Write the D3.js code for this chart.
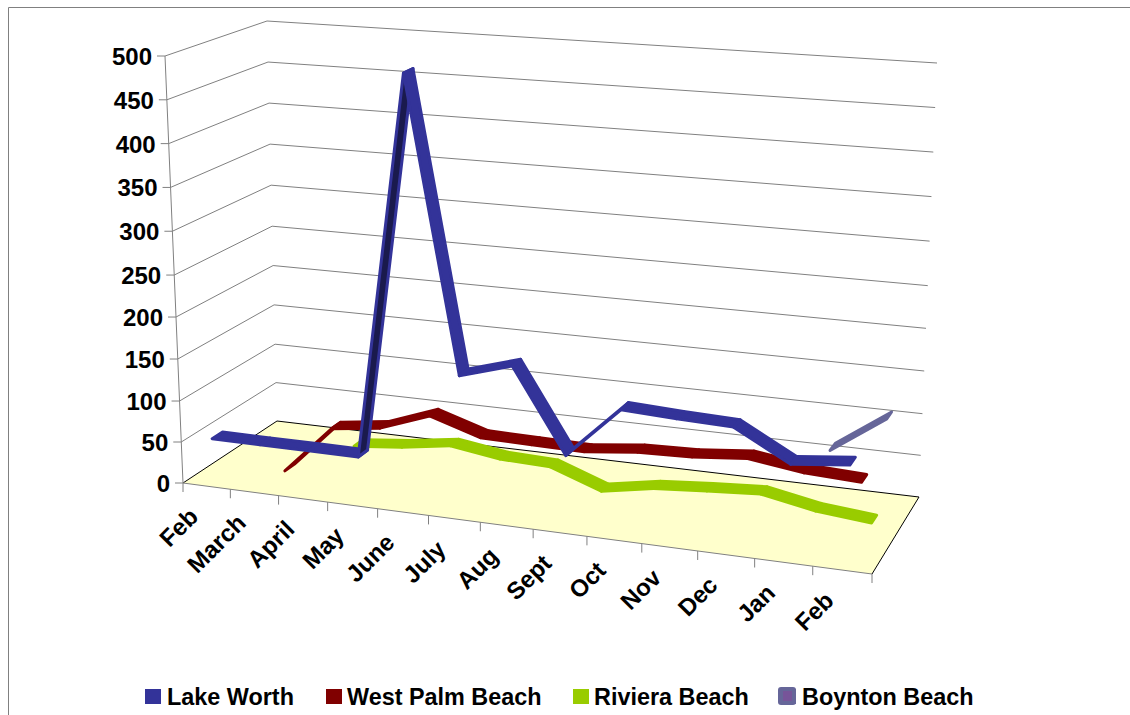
<!DOCTYPE html>
<html>
<head>
<meta charset="utf-8">
<script src="https://cdn.jsdelivr.net/npm/d3@7"></script>
<style>
    html, body { margin: 0; padding: 0; background: #fff; }
    svg { display: block; }
    text { font-family: "Liberation Sans", Arial, sans-serif; font-weight: bold; fill: #000; }
</style>
</head>
<body>
<script>
const months = ["Feb", "March", "April", "May", "June", "July", "Aug", "Sept", "Oct", "Nov", "Dec", "Jan", "Feb"];
const seriesNames = ["Lake Worth", "West Palm Beach", "Riviera Beach", "Boynton Beach"];
const seriesColours = ["#333399", "#800000", "#99cc00", "#666699"];
const seriesDark = ["#1a1a4d", "#400000", "#4d6600", "#33334d"];

// values, null = nothing drawn for that month
const lakeWorth = [52, 52, 52, 52, 497, 162, 180, 84, 144, 141, 139, 105, 112];
const westPalmBeach = [null, 0, 59, 67, 89, 70, 69, 68, 75, 77, 83, 74, 71];
const rivieraBeach = [null, null, 18, 24, 33, 24, 22, 0, 11, 16, 20, 8, 2];
const boyntonBeach = [null, null, null, null, null, null, null, null, null, null, null, 59, 104];
const seriesValues = [lakeWorth, westPalmBeach, rivieraBeach, boyntonBeach];

const legendX = [145, 326, 573, 780];
const legendTextX = [167, 347, 594, 802];

const width = 1130;
const height = 715;

const svg = d3.select("body").append("svg").attr("width", width).attr("height", height);

// unit square -> quad, corners: front-left, front-right, back-right, back-left
function homography(q) {
    const [[x0, y0], [x1, y1], [x2, y2], [x3, y3]] = q;
    const dx1 = x1 - x2, dx2 = x3 - x2, sx = x0 - x1 + x2 - x3;
    const dy1 = y1 - y2, dy2 = y3 - y2, sy = y0 - y1 + y2 - y3;
    const den = dx1 * dy2 - dx2 * dy1;
    const g = (sx * dy2 - dx2 * sy) / den;
    const h = (dx1 * sy - sx * dy1) / den;
    const a = x1 - x0 + g * x1, b = x3 - x0 + h * x3;
    const d = y1 - y0 + g * y1, e = y3 - y0 + h * y3;
    return (u, v) => {
        const k = g * u + h * v + 1;
        return [(a * u + b * v + x0) / k, (d * u + e * v + y0) / k];
    };
}

const floorMap = homography([[183, 483], [872, 574], [919, 497], [277, 421]]);

// how far the 500 level sits from the floor at each floor corner (same order)
const lift = [[-18, -427], [19, -463], [18, -434], [-10, -400]];

const xScale = d3.scaleBand().domain(d3.range(months.length)).range([0, 1]);
// the walls stretch a little towards the top
const yScale = d3.scaleLinear().domain([0, 100, 250, 500]).range([0, 0.192, 0.487, 1]);
const depthScale = d3.scaleBand().domain(d3.range(seriesNames.length)).range([0, 1]);
const ribbon = 0.105;

function project(u, v, value) {
    const a = floorMap(u, v);
    const l = floorMap(0, v)[0], r = floorMap(1, v)[0];
    const s = (a[0] - l) / (r - l);
    const t = yScale(value);
    const lerp = (k) => (lift[0][k] * (1 - s) + lift[1][k] * s) * (1 - v) + (lift[3][k] * (1 - s) + lift[2][k] * s) * v;
    return [a[0] + lerp(0) * t, a[1] + lerp(1) * t];
}

const line = d3.line();
const grey = "#808080";

// frame
svg.append("path").attr("d", "M8.5,715V7.5H1130").attr("fill", "none").attr("stroke", grey);

// floor
svg.append("path")
    .attr("d", line([project(0, 0, 0), project(1, 0, 0), project(1, 1, 0), project(0, 1, 0)]) + "Z")
    .attr("fill", "#ffffcc");
svg.append("path")
    .attr("d", line([project(0, 0, 0), project(0, 1, 0), project(1, 1, 0), project(1, 0, 0)]))
    .attr("fill", "none").attr("stroke", "#000");

// gridlines on the two walls
yScale.ticks(10).forEach((t) => {
    if (t > 0) {
        svg.append("path")
            .attr("d", line([project(0, 0, t), project(0, 1, t), project(1, 1, t)]))
            .attr("fill", "none").attr("stroke", grey);
    }
    const p = project(0, 0, t);
    svg.append("line")
        .attr("x1", p[0] - 8).attr("y1", p[1]).attr("x2", p[0]).attr("y2", p[1])
        .attr("stroke", grey);
    svg.append("text")
        .attr("x", p[0] - 13)
        .attr("y", p[1] + 9)
        .attr("text-anchor", "end")
        .attr("font-size", 24)
        .text(t);
});

// y axis and front edge with month ticks
svg.append("path").attr("d", line([project(0, 0, 0), project(0, 0, 500)])).attr("fill", "none").attr("stroke", grey);
svg.append("path").attr("d", line([project(0, 0, 0), project(1, 0, 0)])).attr("fill", "none").attr("stroke", grey);
d3.range(months.length + 1).forEach((i) => {
    const p = project(i * xScale.step(), 0, 0);
    svg.append("line")
        .attr("x1", p[0]).attr("y1", p[1]).attr("x2", p[0]).attr("y2", p[1] + 9)
        .attr("stroke", grey);
});
months.forEach((m, i) => {
    const p = project(xScale(i) + xScale.bandwidth() / 2, 0, 0);
    svg.append("text")
        .attr("transform", `translate(${p[0] - 7},${p[1] + 32}) rotate(-45)`)
        .attr("text-anchor", "end")
        .attr("font-size", 24)
        .text(m);
});

// ribbons, back series first
d3.range(seriesNames.length).reverse().forEach((s) => {
    const vals = seriesValues[s];
    const mid = depthScale(s) + depthScale.bandwidth() / 2;
    const v0 = mid - ribbon / 2, v1 = mid + ribbon / 2;
    const g = svg.append("g");
    d3.pairs(d3.range(vals.length)).forEach(([i, j]) => {
        if (vals[i] === null || vals[j] === null) return;
        const ui = xScale(i) + xScale.bandwidth() / 2;
        const uj = xScale(j) + xScale.bandwidth() / 2;
        const poly = [project(ui, v0, vals[i]), project(uj, v0, vals[j]), project(uj, v1, vals[j]), project(ui, v1, vals[i])];
        const flipped = d3.polygonArea(poly) < 0;
        g.append("path")
            .attr("d", line(poly) + "Z")
            .attr("fill", flipped ? seriesDark[s] : seriesColours[s])
            .attr("stroke", seriesColours[s])
            .attr("stroke-width", 3)
            .attr("stroke-linejoin", "round");
    });
});

// legend
seriesNames.forEach((name, i) => {
    svg.append("rect")
        .attr("x", legendX[i]).attr("y", 689).attr("width", 16).attr("height", 15)
        .attr("fill", seriesColours[i]);
    svg.append("text")
        .attr("x", legendTextX[i]).attr("y", 705)
        .attr("font-size", 23.4)
        .text(name);
});

// the Boynton Beach key has a lighter rim and a purple middle
svg.append("rect")
    .attr("x", 778).attr("y", 687).attr("width", 18).attr("height", 18).attr("rx", 3)
    .attr("fill", seriesColours[3]);
svg.append("rect")
    .attr("x", 783).attr("y", 691).attr("width", 9).attr("height", 10)
    .attr("fill", "#775599");
</script>
</body>
</html>
